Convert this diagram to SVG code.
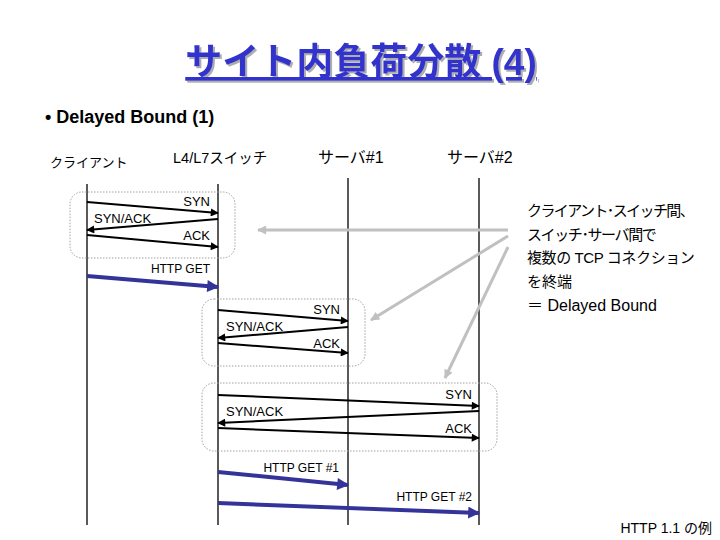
<svg xmlns="http://www.w3.org/2000/svg" width="720" height="540" viewBox="0 0 720 540">
<style>
  text { font-family: "Liberation Sans", "Noto Sans CJK JP", sans-serif; fill: #000; }
  .title { font-size: 37px; font-weight: bold; fill: #3333cc; text-decoration: underline; filter: url(#sh); }
  .sub { font-size: 18px; font-weight: bold; }
  .hdr { font-size: 14px; }
  .msg { font-size: 12px; }
  .msg2 { font-size: 13px; }
  .note { font-size: 15px; }
  .life { stroke: #000; stroke-width: 1.3; fill: none; }
  .m { stroke: #000; stroke-width: 2; fill: none; marker-end: url(#ah); }
  .h { stroke: #333399; stroke-width: 4; fill: none; marker-end: url(#ahb); }
  .g { stroke: #c0c0c0; stroke-width: 3; fill: none; marker-end: url(#ahg); }
  .box { fill: none; stroke: #a0a0a0; stroke-width: 1; stroke-dasharray: 1.5 1.5; }
</style>
<defs>
  <filter id="sh" x="-5%" y="-20%" width="110%" height="140%">
    <feDropShadow dx="2" dy="2" stdDeviation="0.5" flood-color="#999999" flood-opacity="0.8"/>
  </filter>
  <marker id="ah" viewBox="0 0 10 10" refX="9" refY="5" markerWidth="5" markerHeight="4" orient="auto" markerUnits="strokeWidth">
    <path d="M0,0 L10,5 L0,10 z" fill="#000"/>
  </marker>
  <marker id="ahb" viewBox="0 0 10 10" refX="9" refY="5" markerWidth="3.5" markerHeight="3" orient="auto" markerUnits="strokeWidth">
    <path d="M0,0 L10,5 L0,10 z" fill="#333399"/>
  </marker>
  <marker id="ahg" viewBox="0 0 10 10" refX="9" refY="5" markerWidth="4" markerHeight="3" orient="auto" markerUnits="strokeWidth">
    <path d="M0,0 L10,5 L0,10 z" fill="#c0c0c0"/>
  </marker>
</defs>
<rect width="720" height="540" fill="#fff"/>

<g id="title">
  <text class="title" x="361" y="75" text-anchor="middle">サイト内負荷分散 (4)</text>
</g>
<g id="subtitle">
  <text class="sub" x="45" y="123">• Delayed Bound (1)</text>
</g>

<g id="client">
  <text class="hdr" x="50" y="167" style="font-size:13px">クライアント</text>
  <line class="life" x1="87" y1="184" x2="87" y2="525"/>
</g>
<g id="switch">
  <text class="hdr" x="173" y="163" style="font-size:14.5px">L4/L7スイッチ</text>
  <line class="life" x1="218" y1="184" x2="218" y2="525"/>
</g>
<g id="server1">
  <text class="hdr" x="318" y="163" style="font-size:16px">サーバ#1</text>
  <line class="life" x1="348" y1="178" x2="348" y2="525"/>
</g>
<g id="server2">
  <text class="hdr" x="447" y="163" style="font-size:16px">サーバ#2</text>
  <line class="life" x1="479" y1="178" x2="479" y2="525"/>
</g>

<g id="groups">
  <rect class="box" x="70" y="192" width="165" height="66" rx="12"/>
  <rect class="box" x="202" y="299" width="163" height="67" rx="12"/>
  <rect class="box" x="202" y="383" width="295" height="68" rx="12"/>
</g>

<g id="connectors">
  <line class="m" x1="87" y1="202" x2="218" y2="213"/>
  <line class="m" x1="218" y1="219" x2="87" y2="230"/>
  <line class="m" x1="87" y1="235" x2="218" y2="247"/>
  <line class="h" x1="87" y1="276" x2="218" y2="287"/>

  <line class="m" x1="218" y1="310" x2="348" y2="321"/>
  <line class="m" x1="348" y1="327" x2="218" y2="338"/>
  <line class="m" x1="218" y1="343" x2="348" y2="353"/>

  <line class="m" x1="218" y1="395" x2="479" y2="406"/>
  <line class="m" x1="479" y1="411" x2="218" y2="423"/>
  <line class="m" x1="218" y1="428" x2="479" y2="438"/>

  <line class="h" x1="218" y1="472" x2="348" y2="485"/>
  <line class="h" x1="218" y1="503" x2="479" y2="513"/>

  <line class="g" x1="508" y1="230" x2="258" y2="230"/>
  <line class="g" x1="508" y1="236" x2="371" y2="320"/>
  <line class="g" x1="508" y1="247" x2="445" y2="378"/>
</g>

<g id="labels">
  <text class="msg2" x="210" y="206" text-anchor="end">SYN</text>
  <text class="msg2" x="94" y="223">SYN/ACK</text>
  <text class="msg2" x="210" y="240" text-anchor="end">ACK</text>
  <text class="msg" x="210" y="273" text-anchor="end">HTTP GET</text>

  <text class="msg2" x="340" y="314" text-anchor="end">SYN</text>
  <text class="msg2" x="226" y="331">SYN/ACK</text>
  <text class="msg2" x="340" y="348" text-anchor="end">ACK</text>

  <text class="msg2" x="472" y="399" text-anchor="end">SYN</text>
  <text class="msg2" x="226" y="416">SYN/ACK</text>
  <text class="msg2" x="472" y="433" text-anchor="end">ACK</text>

  <text class="msg" x="339" y="472" text-anchor="end">HTTP GET #1</text>
  <text class="msg" x="472" y="501" text-anchor="end">HTTP GET #2</text>
</g>

<g id="note">
  <text class="note" x="527" y="216" letter-spacing="-1.6">クライアント･スイッチ間、</text>
  <text class="note" x="527" y="240" letter-spacing="-1.4">スイッチ･サーバ間で</text>
  <text class="note" x="527" y="263" letter-spacing="-0.4">複数の TCP コネクション</text>
  <text class="note" x="527" y="287">を終端</text>
  <text class="note" x="527" y="311" style="font-size:16px">＝ Delayed Bound</text>
  <text class="msg" x="712" y="533" text-anchor="end" style="font-size:14px">HTTP 1.1 の例</text>
</g>
</svg>
